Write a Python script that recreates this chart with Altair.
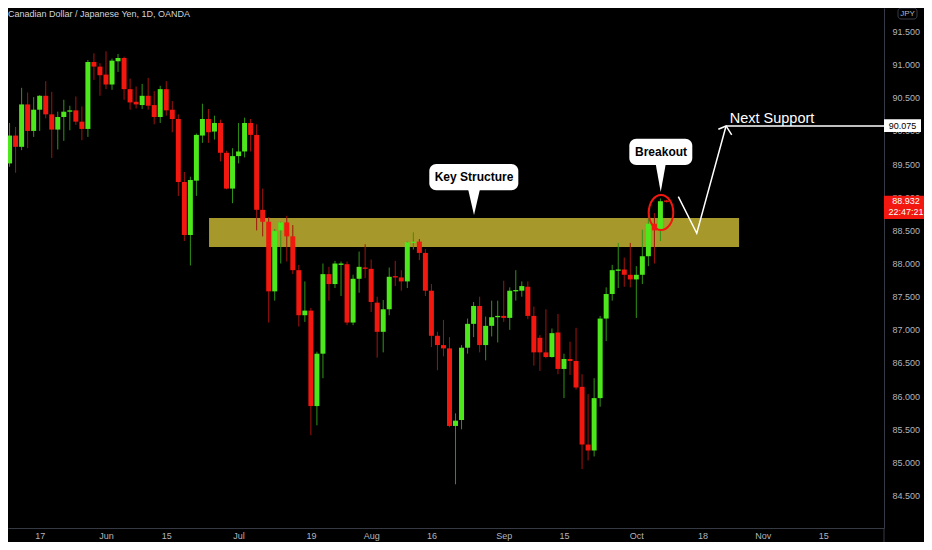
import altair as alt
import pandas as pd

# ---------------- data ----------------
opens = [89.80, 89.51, 89.93, 89.76, 90.40, 90.00, 90.32, 90.53, 90.25, 90.02,
         90.21, 90.29, 90.31, 90.14, 90.03, 91.04, 90.97, 90.85, 90.70, 91.05,
         91.10, 90.63, 90.44, 90.39, 90.53, 90.39, 90.21, 90.63, 90.32, 90.18,
         89.23, 88.43, 89.25, 89.93, 90.18, 89.99, 90.12, 89.67, 89.13, 89.62,
         89.69, 90.12, 89.94, 88.81, 88.63, 87.58, 88.50, 88.62, 88.41, 87.90,
         87.22, 87.29, 85.85, 86.64, 87.84, 87.69, 87.98, 87.99, 87.11, 87.77,
         87.94, 87.92, 87.41, 86.97, 87.31, 87.81, 87.79, 87.73, 88.31, 88.33,
         88.16, 87.59, 86.91, 86.77, 86.72, 85.55, 85.64, 86.73, 87.09, 87.36,
         86.77, 87.06, 87.19, 87.21, 87.18, 87.58, 87.59, 87.65, 87.21, 86.88,
         86.66, 86.59, 86.96, 86.41, 86.56, 86.53, 86.14, 85.27, 85.18, 85.97,
         87.17, 87.54, 87.89, 87.91, 87.83, 87.76, 87.83, 88.11, 88.60, 88.51,
         88.95]
highs = [89.84, 90.12, 90.06, 90.65, 90.58, 90.51, 90.54, 90.75, 90.59, 90.29,
         90.47, 90.38, 90.52, 90.37, 91.07, 91.17, 91.02, 91.20, 91.09, 91.16,
         91.12, 90.79, 90.67, 90.71, 90.80, 90.60, 90.68, 90.75, 90.45, 90.25,
         89.38, 89.31, 89.96, 90.41, 90.33, 90.23, 90.17, 89.70, 89.74, 90.12,
         90.20, 90.18, 90.10, 89.13, 88.70, 88.52, 88.63, 88.72, 88.58, 87.98,
         87.73, 87.33, 86.67, 88.00, 87.95, 88.04, 88.03, 88.03, 87.83, 88.18,
         88.29, 88.06, 87.50, 87.45, 87.94, 88.04, 87.90, 88.33, 88.47, 88.37,
         88.22, 87.69, 86.97, 87.15, 86.89, 85.74, 86.77, 87.17, 87.42, 87.50,
         87.20, 87.44, 87.44, 87.74, 87.64, 87.90, 87.73, 87.73, 87.35, 86.92,
         87.31, 87.02, 87.24, 86.64, 86.82, 87.03, 86.33, 86.03, 86.27, 87.21,
         87.64, 87.98, 88.31, 88.09, 88.31, 87.96, 88.51, 88.83, 88.76, 88.98,
         88.96]
lows = [89.08, 89.46, 89.37, 89.71, 89.74, 89.91, 90.00, 90.19, 89.59, 89.72,
        89.85, 90.01, 90.09, 89.86, 89.91, 90.77, 90.53, 90.63, 90.62, 90.89,
        90.47, 90.32, 90.34, 90.33, 90.32, 90.10, 90.12, 90.23, 89.98, 89.02,
        88.34, 87.97, 89.02, 89.82, 89.82, 89.87, 89.54, 89.12, 88.91, 89.51,
        89.60, 89.69, 88.50, 88.41, 87.11, 87.44, 88.00, 88.03, 87.84, 87.05,
        87.12, 85.41, 85.56, 86.27, 87.44, 87.63, 87.51, 87.07, 87.07, 87.56,
        87.78, 87.27, 86.58, 86.66, 87.22, 87.66, 87.59, 87.63, 88.21, 88.05,
        87.51, 86.74, 86.39, 86.60, 85.53, 84.67, 85.50, 86.64, 86.89, 86.66,
        86.54, 86.90, 86.81, 87.12, 87.00, 87.44, 87.50, 87.16, 86.46, 86.38,
        86.57, 86.58, 86.33, 85.97, 86.32, 86.10, 84.90, 85.03, 85.09, 85.84,
        86.83, 87.44, 87.63, 87.65, 87.64, 87.18, 87.69, 87.96, 88.00, 88.34,
        88.92]
closes = [89.51, 89.93, 89.76, 90.40, 90.00, 90.32, 90.53, 90.25, 90.02, 90.21,
          90.29, 90.31, 90.14, 90.03, 91.04, 90.97, 90.84, 90.70, 91.06, 91.10,
          90.63, 90.43, 90.40, 90.53, 90.38, 90.21, 90.63, 90.31, 90.18, 89.23,
          88.43, 89.26, 89.94, 90.18, 89.98, 90.12, 89.67, 89.13, 89.62, 89.69,
          90.12, 89.94, 88.81, 88.63, 87.58, 88.49, 88.62, 88.41, 87.90, 87.22,
          87.29, 85.85, 86.64, 87.84, 87.69, 88.00, 88.00, 87.11, 87.77, 87.95,
          87.92, 87.42, 86.97, 87.31, 87.80, 87.79, 87.73, 88.32, 88.33, 88.16,
          87.59, 86.91, 86.77, 86.72, 85.55, 85.63, 86.73, 87.09, 87.36, 86.77,
          87.06, 87.19, 87.21, 87.18, 87.59, 87.60, 87.66, 87.21, 86.66, 86.66,
          86.59, 86.95, 86.41, 86.56, 86.53, 86.13, 85.27, 85.18, 85.97, 87.17,
          87.54, 87.90, 87.91, 87.83, 87.76, 87.83, 88.11, 88.60, 88.50, 88.94,
          88.93]
bar_index = list(range(len(opens)))

tick_index = [6, 17, 27, 39, 51, 61, 71, 83, 93, 105, 116, 126, 136]
tick_labels = ["17", "Jun", "15", "Jul", "19", "Aug", "16", "Sep", "15",
               "Oct", "18", "Nov", "15"]
price_ticks = [84.5, 85.0, 85.5, 86.0, 86.5, 87.0, 87.5, 88.0, 88.5, 89.0,
               89.5, 90.0, 90.5, 91.0, 91.5]

title_text = ["Canadian Dollar / Japanese Yen, 1D, OANDA"]

band_x1 = [34.1]
band_x2 = [122.05]
band_top = [88.687]
band_bot = [88.25]

callout_label = ["Key Structure", "Breakout"]
callout_x1 = [70.65, 103.84]
callout_x2 = [85.42, 114.29]
callout_top = [89.502, 89.883]
callout_bot = [89.105, 89.486]
callout_cx = [78.07, 109.1]
callout_cy = [89.302, 89.684]

pointer1_x = [78.07]
pointer1_y = [88.928]
pointer2_x = [109.05]
pointer2_y = [89.290]

circle_x = [109.1]
circle_y = [88.77]

path_seg = ["zig", "zig", "zig", "hline", "hline", "head", "head", "head"]
path_ord = [0, 1, 2, 0, 1, 0, 1, 2]
path_x = [111.97, 115.03, 119.89, 119.89, 146.1, 118.61, 119.89, 120.83]
path_p = [89.008, 88.456, 90.075, 90.075, 90.075, 90.025, 90.075, 89.939]

next_label = ["Next Support"]
next_x = [120.5]
next_y = [90.124]

target_price = [90.075]
target_top = [90.176]
target_bot = [89.984]
last_price = ["88.932"]
last_timer = ["22:47:21"]
last_top = [89.023]
last_bot = [88.672]
last_text_y = [88.939, 88.773]

X_DOMAIN = [0.74, 146.1]
Y_DOMAIN = [84.011, 91.854]

# ---------------- styling ----------------
UP = "#4ce81c"
DOWN = "#f2170f"
UP_WICK = "#2f9416"
DOWN_WICK = "#a3130d"
BAND = "#a6982a"
AXIS_GREY = "#b2b5be"
LINE_GREY = "#363a45"
FONT = "Liberation Sans"

xs = alt.Scale(domain=X_DOMAIN, nice=False, zero=False, padding=0)
ys = alt.Scale(domain=Y_DOMAIN, nice=False, zero=False, padding=0)

label_expr = ("[" + ",".join("'%s'" % t for t in tick_labels) + "][indexof(["
              + ",".join(str(v) for v in tick_index) + "], datum.value)]")

x_axis = alt.Axis(values=tick_index, labelExpr=label_expr, title=None, grid=False,
                  ticks=False, domainColor=LINE_GREY, labelColor=AXIS_GREY,
                  labelFont=FONT, labelFontSize=9, labelPadding=3, labelFlush=False)
y_axis = alt.Axis(orient="right", values=price_ticks, format=".3f", title=None,
                  grid=False, ticks=False, domainColor=LINE_GREY, labelColor=AXIS_GREY,
                  labelFont=FONT, labelFontSize=9, labelPadding=8)


def X(field):
    return alt.X(field, scale=xs, axis=x_axis)


def Y(field):
    return alt.Y(field, scale=ys, axis=y_axis)


df = pd.DataFrame({"i": bar_index, "open": opens, "high": highs,
                   "low": lows, "close": closes})
up_test = "datum.close >= datum.open"

band = alt.Chart(pd.DataFrame({"x1": band_x1, "x2": band_x2, "top": band_top,
                               "bot": band_bot})).mark_rect(color=BAND, clip=True).encode(
    x=X("x1:Q"), x2="x2:Q", y=Y("top:Q"), y2="bot:Q")

wicks = alt.Chart(df).mark_rule(strokeWidth=1, clip=True).encode(
    x=X("i:Q"), y=Y("low:Q"), y2="high:Q",
    color=alt.condition(up_test, alt.value(UP_WICK), alt.value(DOWN_WICK)))

bodies = alt.Chart(df).mark_bar(size=5, clip=True).encode(
    x=X("i:Q"), y=Y("open:Q"), y2="close:Q",
    color=alt.condition(up_test, alt.value(UP), alt.value(DOWN)))

cdf = pd.DataFrame({"label": callout_label, "x1": callout_x1, "x2": callout_x2,
                    "top": callout_top, "bot": callout_bot,
                    "cx": callout_cx, "cy": callout_cy})
callout_box = alt.Chart(cdf).mark_rect(color="white", cornerRadius=7).encode(
    x=X("x1:Q"), x2="x2:Q", y=Y("top:Q"), y2="bot:Q")
callout_text = alt.Chart(cdf).mark_text(font=FONT, fontSize=12, fontWeight="bold",
                                        color="black", baseline="middle").encode(
    x=X("cx:Q"), y=Y("cy:Q"), text="label:N")

pointer1 = alt.Chart(pd.DataFrame({"x": pointer1_x, "y": pointer1_y})).mark_point(
    shape="M -0.46 -1 L 0.46 -1 L 0 1 Z", size=676, filled=True, color="white",
    opacity=1, strokeWidth=0).encode(x=X("x:Q"), y=Y("y:Q"))
pointer2 = alt.Chart(pd.DataFrame({"x": pointer2_x, "y": pointer2_y})).mark_point(
    shape="M -0.36 -1 L 0.36 -1 L 0 1 Z", size=784, filled=True, color="white",
    opacity=1, strokeWidth=0).encode(x=X("x:Q"), y=Y("y:Q"))

circle = alt.Chart(pd.DataFrame({"x": circle_x, "y": circle_y})).mark_point(
    shape="M -0.7 0 A 0.7 1 0 1 0 0.7 0 A 0.7 1 0 1 0 -0.7 0 Z", size=1225,
    filled=False, color="#f2170f", strokeWidth=2, opacity=1).encode(
    x=X("x:Q"), y=Y("y:Q"))

paths = alt.Chart(pd.DataFrame({"seg": path_seg, "ord": path_ord, "x": path_x,
                                "p": path_p})).mark_line(
    color="white", strokeWidth=1.5, clip=True).encode(
    x=X("x:Q"), y=Y("p:Q"), detail="seg:N", order="ord:Q")

next_text = alt.Chart(pd.DataFrame({"t": next_label, "x": next_x, "y": next_y})).mark_text(
    font=FONT, fontSize=14.5, color="white", align="left", baseline="alphabetic").encode(
    x=X("x:Q"), y=Y("y:Q"), text="t:N")

title = alt.Chart(pd.DataFrame({"t": title_text})).mark_text(
    font=FONT, fontSize=9, color="#d1d4dc", align="left", baseline="alphabetic").encode(
    x=alt.value(0), y=alt.value(8.5), text="t:N")

jpy_box = alt.Chart(pd.DataFrame({"t": ["JPY"]})).mark_rect(
    fill="black", stroke=LINE_GREY, strokeWidth=1, cornerRadius=3).encode(
    x=alt.value(890), x2=alt.value(909), y=alt.value(0), y2=alt.value(11))
jpy_text = alt.Chart(pd.DataFrame({"t": ["JPY"]})).mark_text(
    font=FONT, fontSize=8, color=AXIS_GREY, baseline="middle").encode(
    x=alt.value(899.5), y=alt.value(5.8), text="t:N")

target_df = pd.DataFrame({"p": target_price, "top": target_top, "bot": target_bot})
target_box = alt.Chart(target_df).mark_rect(color="white").encode(
    x=alt.value(876), x2=alt.value(913), y=Y("top:Q"), y2="bot:Q")
target_text = alt.Chart(target_df).mark_text(
    font=FONT, fontSize=9, color="black", baseline="middle").encode(
    x=alt.value(894.5), y=Y("p:Q"), text=alt.Text("p:Q", format=".3f"))

last_box = alt.Chart(pd.DataFrame({"top": last_top, "bot": last_bot})).mark_rect(
    color=DOWN).encode(x=alt.value(876), x2=alt.value(922), y=Y("top:Q"), y2="bot:Q")
last_text = alt.Chart(pd.DataFrame({"t": last_price + last_timer,
                                    "y": last_text_y})).mark_text(
    font=FONT, fontSize=9, color="white", baseline="middle").encode(
    x=alt.value(898), y=Y("y:Q"), text="t:N")

vline = alt.Chart(pd.DataFrame({"t": [0]})).mark_rule(color=LINE_GREY, strokeWidth=1).encode(
    x=alt.value(876), y=alt.value(520), y2=alt.value(534))

chart = alt.layer(
    band, wicks, bodies, callout_box, pointer1, pointer2, callout_text, circle,
    paths, next_text, title, jpy_box, jpy_text, target_box, target_text,
    last_box, last_text, vline
).properties(
    width=876, height=520,
    autosize=alt.AutoSizeParams(type="none"),
    padding={"left": 0, "top": 0, "right": 40, "bottom": 14},
    background="#000000",
).configure_view(strokeWidth=0)

chart.save("out.html", embed_options={"renderer": "svg", "actions": False})
